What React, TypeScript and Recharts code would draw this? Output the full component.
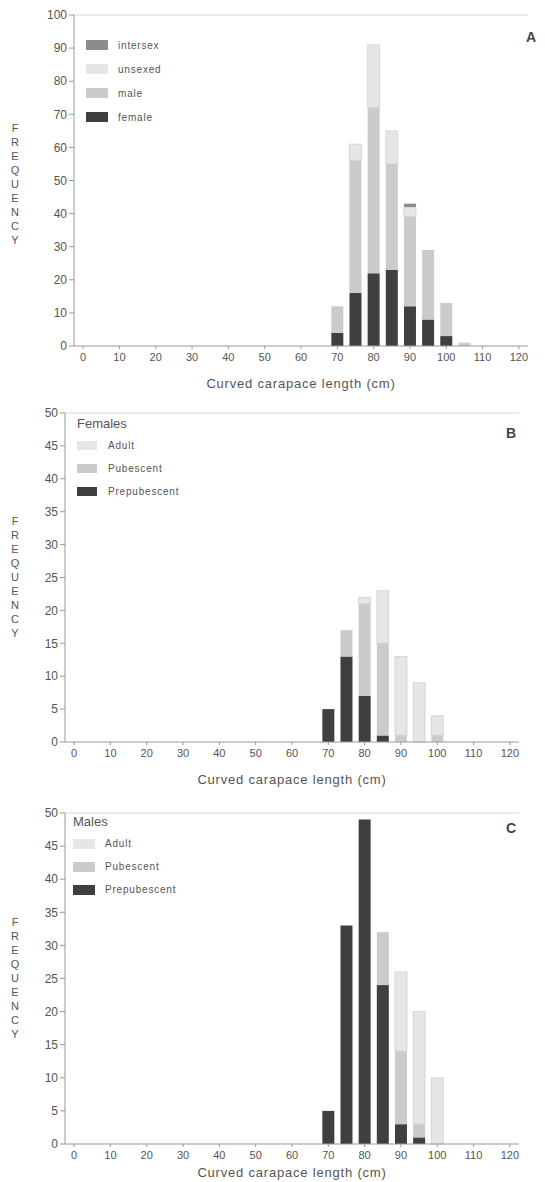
import { BarChart, Bar, XAxis, YAxis, Legend, ReferenceLine } from 'recharts'

// 5 cm length classes
const lengthBins = [0, 5, 10, 15, 20, 25, 30, 35, 40, 45, 50, 55, 60, 65, 70, 75, 80, 85, 90, 95, 100, 105, 110, 115, 120]

// A: all turtles by sex
const femaleA = [0, 0, 0, 0, 0, 0, 0, 0, 0, 0, 0, 0, 0, 0, 4, 16, 22, 23, 12, 8, 3, 0, 0, 0, 0]
const maleA = [0, 0, 0, 0, 0, 0, 0, 0, 0, 0, 0, 0, 0, 0, 8, 40, 50, 32, 27, 21, 10, 1, 0, 0, 0]
const unsexedA = [0, 0, 0, 0, 0, 0, 0, 0, 0, 0, 0, 0, 0, 0, 0, 5, 19, 10, 3, 0, 0, 0, 0, 0, 0]
const intersexA = [0, 0, 0, 0, 0, 0, 0, 0, 0, 0, 0, 0, 0, 0, 0, 0, 0, 0, 1, 0, 0, 0, 0, 0, 0]

// B: females by maturity
const prepubF = [0, 0, 0, 0, 0, 0, 0, 0, 0, 0, 0, 0, 0, 0, 5, 13, 7, 1, 0, 0, 0, 0, 0, 0, 0]
const pubF = [0, 0, 0, 0, 0, 0, 0, 0, 0, 0, 0, 0, 0, 0, 0, 4, 14, 14, 1, 0, 1, 0, 0, 0, 0]
const adultF = [0, 0, 0, 0, 0, 0, 0, 0, 0, 0, 0, 0, 0, 0, 0, 0, 1, 8, 12, 9, 3, 0, 0, 0, 0]

// C: males by maturity
const prepubM = [0, 0, 0, 0, 0, 0, 0, 0, 0, 0, 0, 0, 0, 0, 5, 33, 49, 24, 3, 1, 0, 0, 0, 0, 0]
const pubM = [0, 0, 0, 0, 0, 0, 0, 0, 0, 0, 0, 0, 0, 0, 0, 0, 0, 8, 11, 2, 0, 0, 0, 0, 0]
const adultM = [0, 0, 0, 0, 0, 0, 0, 0, 0, 0, 0, 0, 0, 0, 0, 0, 0, 0, 12, 17, 10, 0, 0, 0, 0]

const ticksA = [0, 10, 20, 30, 40, 50, 60, 70, 80, 90, 100]
const ticksBC = [0, 5, 10, 15, 20, 25, 30, 35, 40, 45, 50]

const sexData = lengthBins.map((len, i) => ({
  len,
  female: femaleA[i],
  male: maleA[i],
  unsexed: unsexedA[i],
  intersex: intersexA[i],
}))
const femaleData = lengthBins.map((len, i) => ({ len, prepub: prepubF[i], pub: pubF[i], adult: adultF[i] }))
const maleData = lengthBins.map((len, i) => ({ len, prepub: prepubM[i], pub: pubM[i], adult: adultM[i] }))

const FONT = '"Liberation Sans", Arial, sans-serif'
const TEXT = '#555'
const AXIS = '#999'
const DARK = '#3f3f3f'
const MID = '#8c8c8c'
const LIGHT = '#cbcbcb'
const PALE = '#e6e6e6'

// legend rows, top to bottom
const sexKey = [
  { name: 'intersex', color: MID },
  { name: 'unsexed', color: PALE },
  { name: 'male', color: LIGHT },
  { name: 'female', color: DARK },
]
const maturityKey = [
  { name: 'Adult', color: PALE },
  { name: 'Pubescent', color: LIGHT },
  { name: 'Prepubescent', color: DARK },
]

function Frequency({ viewBox, shift = 0 }: any) {
  const cy = viewBox.y + viewBox.height / 2 + shift
  const letters = 'FREQUENCY'.split('')
  return (
    <text x={15} y={cy - 4 * 14} textAnchor="middle" dominantBaseline="middle" fill={TEXT} fontSize={11} fontFamily={FONT}>
      {letters.map((ch, i) => (
        <tspan key={i} x={15} dy={i === 0 ? 0 : 14}>
          {ch}
        </tspan>
      ))}
    </text>
  )
}

function KeyBox({ items, title, rowH, swW, swH, gap }: any) {
  return (
    <div style={{ fontFamily: FONT, color: TEXT }}>
      {title && <div style={{ fontSize: 13, lineHeight: '16px', marginBottom: 2 }}>{title}</div>}
      {items.map((p: any) => (
        <div key={p.name} style={{ display: 'flex', alignItems: 'center', height: rowH }}>
          <span style={{ width: swW, height: swH, background: p.color, display: 'inline-block', marginRight: gap }} />
          <span style={{ fontSize: 10, letterSpacing: 0.8 }}>{p.name}</span>
        </div>
      ))}
    </div>
  )
}

const xTick = { fontSize: 11, fill: TEXT, fontFamily: FONT }
const yTick = { fontSize: 12, fill: TEXT, fontFamily: FONT }
const xTitle = (offset: number) => ({
  value: 'Curved carapace length (cm)',
  position: 'insideBottom' as const,
  offset,
  fill: TEXT,
  fontSize: 13,
  fontFamily: FONT,
  letterSpacing: 0.8,
})

function panelLetter(letter: string, left: number, top: number) {
  return (
    <div style={{ position: 'absolute', left, top, fontFamily: FONT, fontWeight: 700, fontSize: 14, color: '#444' }}>
      {letter}
    </div>
  )
}

export default function App() {
  return (
    <div style={{ position: 'absolute', top: 0, left: 0, width: 545, height: 1182, background: '#fff', overflow: 'hidden' }}>
      <div style={{ position: 'absolute', top: 0, left: 0 }}>
        <BarChart width={545} height={395} data={sexData} margin={{ top: 15, right: 17, left: 0, bottom: 7 }} barCategoryGap="17%">
          <XAxis dataKey="len" interval={1} tick={xTick} tickSize={3} tickMargin={4} stroke={AXIS} height={42} label={xTitle(0)} />
          <YAxis domain={[0, 100]} ticks={ticksA} width={74} tick={yTick} tickSize={5} stroke={AXIS}
            label={{ content: (p: any) => <Frequency {...p} shift={4} /> }} />
          <ReferenceLine y={100} stroke="#d6d6d6" />
          <Legend layout="vertical" align="center" verticalAlign="middle" wrapperStyle={{ top: 33, left: 86 }}
            content={() => <KeyBox items={sexKey} rowH={24} swW={22} swH={10} gap={10} />} />
          <Bar dataKey="female" name="female" stackId="a" fill={DARK} isAnimationActive={false} />
          <Bar dataKey="male" name="male" stackId="a" fill={LIGHT} isAnimationActive={false} />
          <Bar dataKey="unsexed" name="unsexed" stackId="a" fill={PALE} stroke="#c4c4c4" strokeWidth={0.6} isAnimationActive={false} />
          <Bar dataKey="intersex" name="intersex" stackId="a" fill={MID} isAnimationActive={false} />
        </BarChart>
      </div>
      {panelLetter('A', 526, 29)}

      <div style={{ position: 'absolute', top: 398, left: 0 }}>
        <BarChart width={545} height={393} data={femaleData} margin={{ top: 15, right: 26, left: 0, bottom: 7 }} barCategoryGap="17%">
          <XAxis dataKey="len" interval={1} tick={xTick} tickSize={3} tickMargin={4} stroke={AXIS} height={42} label={xTitle(0)} />
          <YAxis domain={[0, 50]} ticks={ticksBC} width={65} tick={yTick} tickSize={5} stroke={AXIS}
            label={{ content: (p: any) => <Frequency {...p} /> }} />
          <ReferenceLine y={50} stroke="#d6d6d6" />
          <Legend layout="vertical" align="center" verticalAlign="middle" wrapperStyle={{ top: 18, left: 77 }}
            content={() => <KeyBox items={maturityKey} title="Females" rowH={23} swW={20} swH={9} gap={11} />} />
          <Bar dataKey="prepub" name="Prepubescent" stackId="b" fill={DARK} isAnimationActive={false} />
          <Bar dataKey="pub" name="Pubescent" stackId="b" fill={LIGHT} isAnimationActive={false} />
          <Bar dataKey="adult" name="Adult" stackId="b" fill={PALE} stroke="#c4c4c4" strokeWidth={0.6} isAnimationActive={false} />
        </BarChart>
      </div>
      {panelLetter('B', 506, 425)}

      <div style={{ position: 'absolute', top: 798, left: 0 }}>
        <BarChart width={545} height={384} data={maleData} margin={{ top: 15, right: 26, left: 0, bottom: 0 }} barCategoryGap="17%">
          <XAxis dataKey="len" interval={1} tick={xTick} tickSize={3} tickMargin={4} stroke={AXIS} height={38} label={xTitle(5)} />
          <YAxis domain={[0, 50]} ticks={ticksBC} width={65} tick={yTick} tickSize={5} stroke={AXIS}
            label={{ content: (p: any) => <Frequency {...p} /> }} />
          <ReferenceLine y={50} stroke="#d6d6d6" />
          <Legend layout="vertical" align="center" verticalAlign="middle" wrapperStyle={{ top: 16, left: 73 }}
            content={() => <KeyBox items={maturityKey} title="Males" rowH={23} swW={22} swH={10} gap={10} />} />
          <Bar dataKey="prepub" name="Prepubescent" stackId="c" fill={DARK} isAnimationActive={false} />
          <Bar dataKey="pub" name="Pubescent" stackId="c" fill={LIGHT} isAnimationActive={false} />
          <Bar dataKey="adult" name="Adult" stackId="c" fill={PALE} stroke="#c4c4c4" strokeWidth={0.6} isAnimationActive={false} />
        </BarChart>
      </div>
      {panelLetter('C', 506, 820)}
    </div>
  )
}
